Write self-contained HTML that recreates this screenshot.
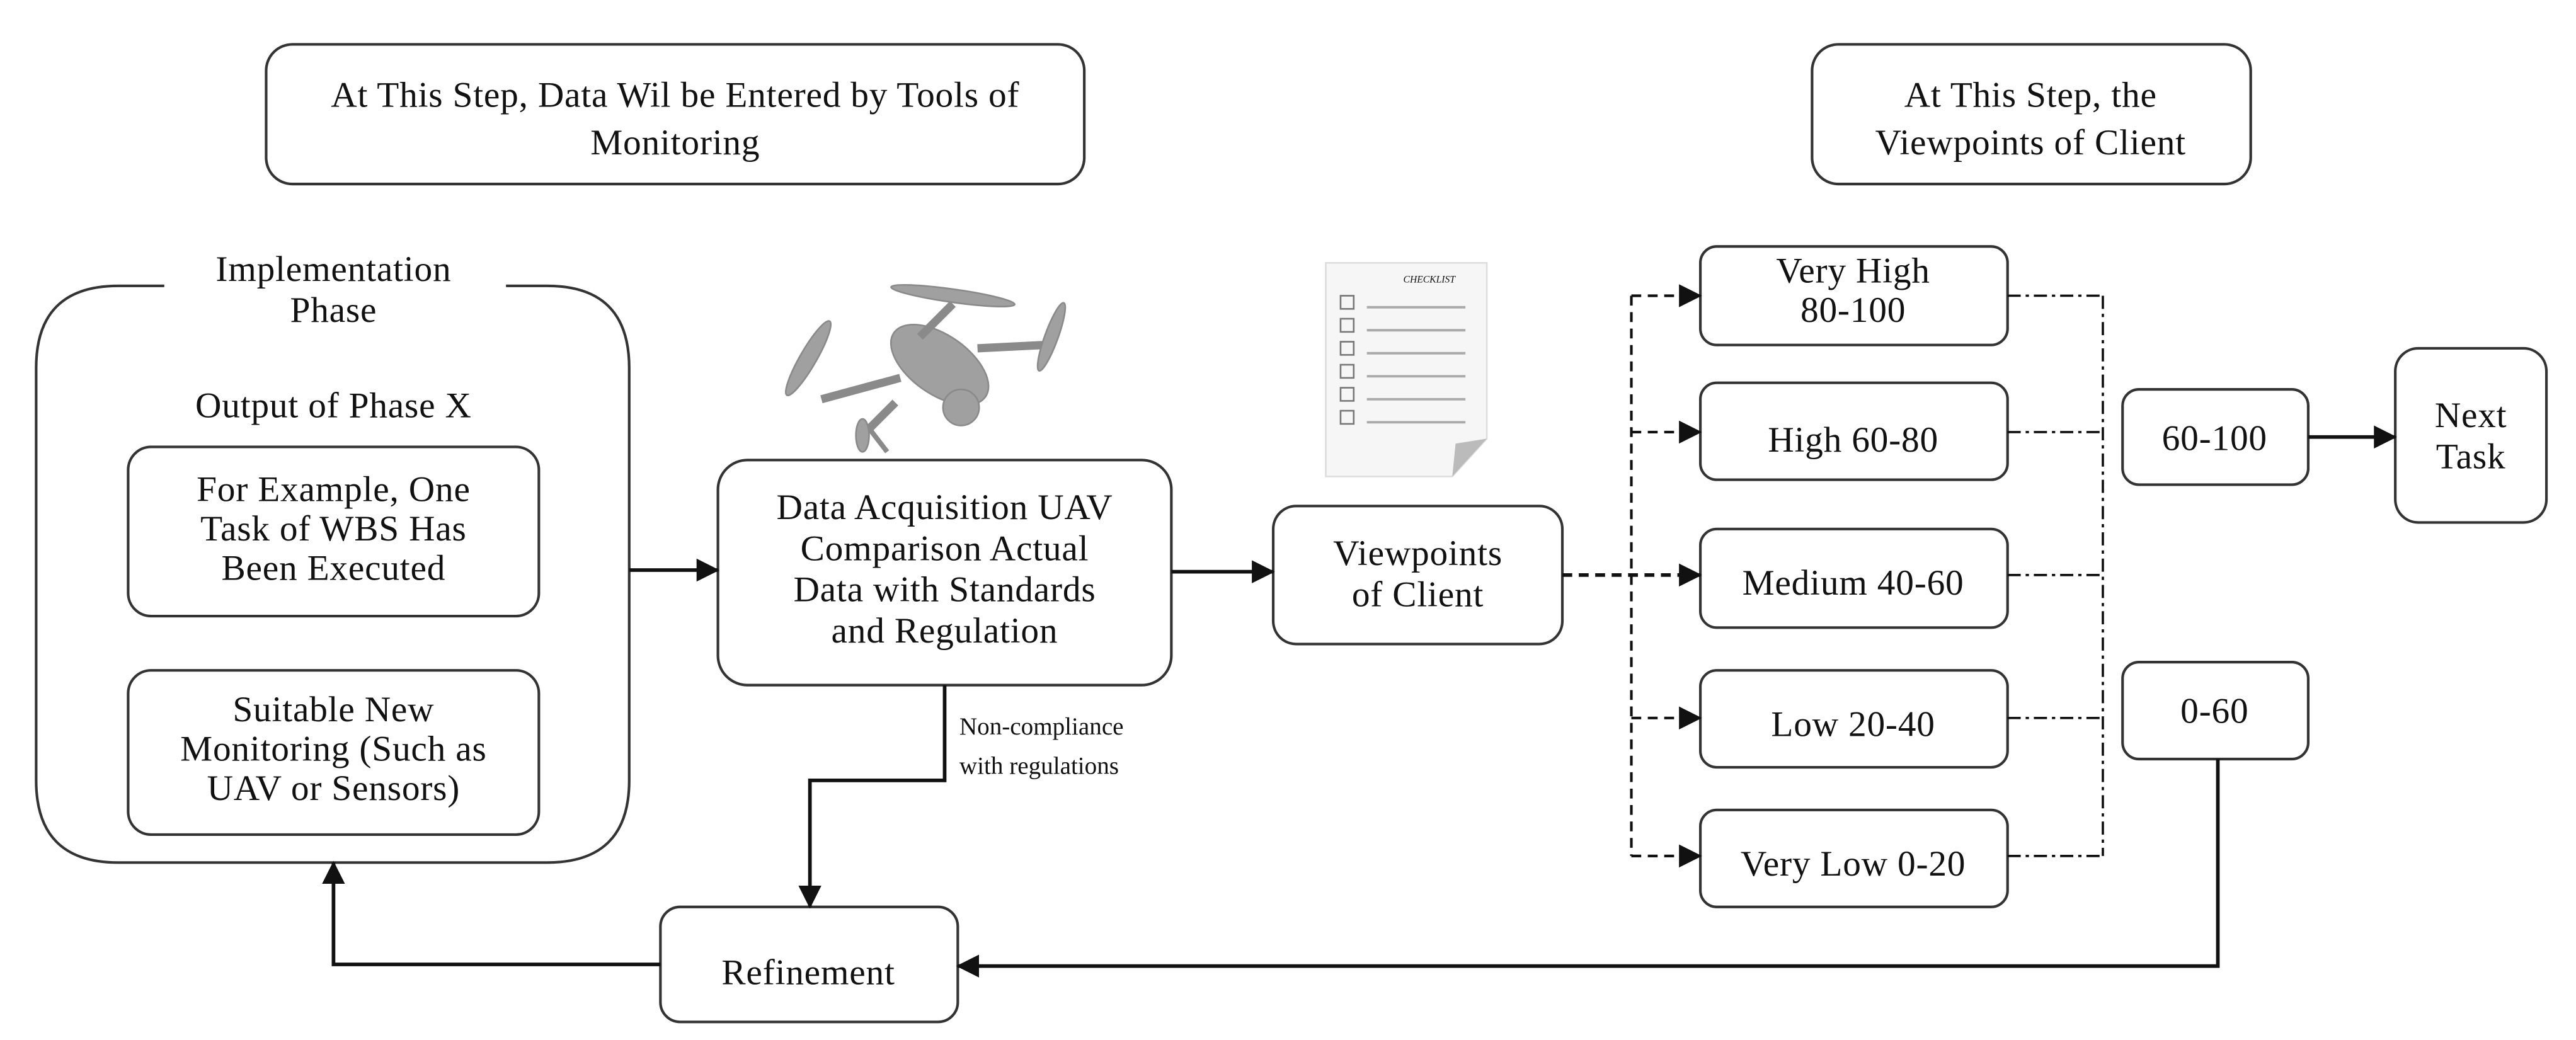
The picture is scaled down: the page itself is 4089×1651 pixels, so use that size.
<!DOCTYPE html>
<html><head><meta charset="utf-8"><style>
html,body{margin:0;padding:0;background:#fff;}
svg{display:block;}
text{font-family:"Liberation Serif",serif;fill:#111;}
</style></head><body>
<svg width="4089" height="1651" viewBox="0 0 1568 633" preserveAspectRatio="none" xmlns="http://www.w3.org/2000/svg">
<defs>
<marker id="ah2" markerWidth="14" markerHeight="14" refX="13" refY="7" orient="auto" markerUnits="userSpaceOnUse"><path d="M0,0 L14,7 L0,14 z" fill="#111"/></marker>
</defs>
<g fill="#fff" stroke="#333" stroke-width="1.6">
<rect x="162" y="27" width="498" height="85" rx="16"/>
<rect x="1103" y="27" width="267" height="85" rx="16"/>
<path d="M100,174 L72,174 Q22,174 22,224 L22,475 Q22,525 72,525 L333,525 Q383,525 383,475 L383,224 Q383,174 333,174 L308,174"/>
<rect x="78" y="272" width="250" height="103" rx="14"/>
<rect x="78" y="408" width="250" height="100" rx="14"/>
<rect x="437" y="280" width="276" height="137" rx="18"/>
<rect x="402" y="552" width="181" height="70" rx="12"/>
<rect x="775" y="308" width="176" height="84" rx="14"/>
<rect x="1035" y="150" width="187" height="60" rx="10"/>
<rect x="1035" y="233" width="187" height="59" rx="10"/>
<rect x="1035" y="322" width="187" height="60" rx="10"/>
<rect x="1035" y="408" width="187" height="59" rx="10"/>
<rect x="1035" y="493" width="187" height="59" rx="10"/>
<rect x="1292" y="237" width="113" height="58" rx="10"/>
<rect x="1292" y="403" width="113" height="59" rx="10"/>
<rect x="1458" y="212" width="92" height="106" rx="14"/>
</g>
<g font-size="22" letter-spacing="0.3" text-anchor="middle">
<text x="411" y="65">At This Step, Data Wil be Entered by Tools of</text>
<text x="411" y="94">Monitoring</text>
<text x="1236" y="65">At This Step, the</text>
<text x="1236" y="94">Viewpoints of Client</text>
<text x="203" y="171">Implementation</text>
<text x="203" y="196">Phase</text>
<text x="203" y="254">Output of Phase X</text>
<text x="203" y="305">For Example, One</text>
<text x="203" y="329">Task of WBS Has</text>
<text x="203" y="353">Been Executed</text>
<text x="203" y="439">Suitable New</text>
<text x="203" y="463">Monitoring (Such as</text>
<text x="203" y="487">UAV or Sensors)</text>
<text x="575" y="316">Data Acquisition UAV</text>
<text x="575" y="341">Comparison Actual</text>
<text x="575" y="366">Data with Standards</text>
<text x="575" y="391">and Regulation</text>
<text x="492" y="599">Refinement</text>
<text x="863" y="344">Viewpoints</text>
<text x="863" y="369">of Client</text>
<text x="1128" y="172">Very High</text>
<text x="1128" y="196">80-100</text>
<text x="1128" y="275">High 60-80</text>
<text x="1128" y="362">Medium 40-60</text>
<text x="1128" y="448">Low 20-40</text>
<text x="1128" y="533">Very Low 0-20</text>
<text x="1348" y="274">60-100</text>
<text x="1348" y="440">0-60</text>
<text x="1504" y="260">Next</text>
<text x="1504" y="285">Task</text>
</g>
<g font-size="15">
<text x="584" y="447">Non-compliance</text>
<text x="584" y="471">with regulations</text>
</g>
<g stroke="#111" stroke-width="2.2" fill="none">
<line x1="383" y1="347" x2="437" y2="347" marker-end="url(#ah2)"/>
<line x1="713" y1="348" x2="775" y2="348" marker-end="url(#ah2)"/>
<polyline points="575,417 575,475 493,475 493,552" marker-end="url(#ah2)"/>
<polyline points="402,587 203,587 203,525" marker-end="url(#ah2)"/>
<polyline points="1350,462 1350,588 583,588" marker-end="url(#ah2)"/>
<line x1="1405" y1="266" x2="1458" y2="266" marker-end="url(#ah2)"/>
</g>
<g stroke="#111" stroke-width="1.6" fill="none" stroke-dasharray="6,4">
<line x1="951" y1="350" x2="1035" y2="350" stroke-width="2.2" marker-end="url(#ah2)"/>
<line x1="993" y1="180" x2="993" y2="521"/>
<line x1="993" y1="180" x2="1035" y2="180" marker-end="url(#ah2)"/>
<line x1="993" y1="263" x2="1035" y2="263" marker-end="url(#ah2)"/>
<line x1="993" y1="437" x2="1035" y2="437" marker-end="url(#ah2)"/>
<line x1="993" y1="521" x2="1035" y2="521" marker-end="url(#ah2)"/>
</g>
<g stroke="#111" stroke-width="1.4" fill="none" stroke-dasharray="8,3,2,3">
<line x1="1280" y1="180" x2="1280" y2="521"/>
<line x1="1222" y1="180" x2="1280" y2="180"/>
<line x1="1222" y1="263" x2="1280" y2="263"/>
<line x1="1222" y1="350" x2="1280" y2="350"/>
<line x1="1222" y1="437" x2="1280" y2="437"/>
<line x1="1222" y1="521" x2="1280" y2="521"/>
</g>
<!-- drone -->
<g fill="#a0a0a0" stroke="#8a8a8a">
<ellipse cx="572" cy="222" rx="34" ry="18" transform="rotate(35 572 222)"/>
<circle cx="585" cy="248" r="11"/>
<line x1="548" y1="230" x2="500" y2="243" stroke-width="5"/>
<line x1="595" y1="212" x2="635" y2="210" stroke-width="5"/>
<line x1="560" y1="205" x2="580" y2="185" stroke-width="5"/>
<line x1="545" y1="245" x2="528" y2="262" stroke-width="5"/>
<ellipse cx="492" cy="218" rx="5" ry="26" transform="rotate(30 492 218)"/>
<ellipse cx="580" cy="180" rx="38" ry="4" transform="rotate(8 580 180)"/>
<ellipse cx="640" cy="205" rx="4" ry="22" transform="rotate(20 640 205)"/>
<ellipse cx="525" cy="265" rx="4" ry="10"/>
<line x1="530" y1="262" x2="540" y2="275" stroke-width="3"/>
</g>
<!-- checklist -->
<g>
<path d="M807,160 L905,160 L905,267 L884,290 L807,290 z" fill="#f6f6f6" stroke="#ddd"/>
<path d="M884,290 L905,267 L886,270 z" fill="#bbb"/>
<text x="870" y="172" font-size="6" font-style="italic" text-anchor="middle" fill="#555">CHECKLIST</text>
<g stroke="#777" stroke-width="1" fill="none">
<rect x="816" y="180" width="8" height="8"/><rect x="816" y="194" width="8" height="8"/><rect x="816" y="208" width="8" height="8"/>
<rect x="816" y="222" width="8" height="8"/><rect x="816" y="236" width="8" height="8"/><rect x="816" y="250" width="8" height="8"/>
</g>
<g stroke="#aaa" stroke-width="1.5">
<line x1="832" y1="187" x2="892" y2="187"/><line x1="832" y1="201" x2="892" y2="201"/><line x1="832" y1="215" x2="892" y2="215"/>
<line x1="832" y1="229" x2="892" y2="229"/><line x1="832" y1="243" x2="892" y2="243"/><line x1="832" y1="257" x2="892" y2="257"/>
</g>
</g>
</svg>
</body></html>
